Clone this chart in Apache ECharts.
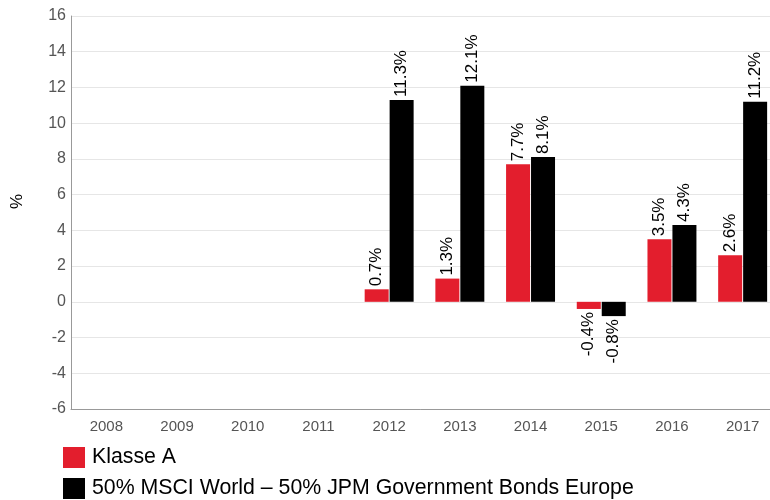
<!DOCTYPE html>
<html>
<head>
<meta charset="utf-8">
<script src="https://cdn.jsdelivr.net/npm/echarts@6/dist/echarts.min.js"></script>
<style>html,body{margin:0;padding:0;background:#fff;}#c{width:770px;height:500px;}</style>
</head>
<body>
<div id="c"></div>
<script>
const categories = ['2008','2009','2010','2011','2012','2013','2014','2015','2016','2017'];
const klasseA = [null,null,null,null,0.7,1.3,7.7,-0.4,3.5,2.6];
const benchmark = [null,null,null,null,11.3,12.1,8.1,-0.8,4.3,11.2];
const seriesNames = ['Klasse A','50% MSCI World \u2013 50% JPM Government Bonds Europe'];

function toData(arr){
  return arr.map(v => {
    if (v === null) return '-';
    return {
      value: v,
      label: v < 0 ? {position:'bottom', align:'right'} : {position:'top', align:'left'}
    };
  });
}
const labelCfg = {
  show: true, rotate: 90, distance: 3, verticalAlign: 'middle',
  fontFamily: 'Liberation Sans, Arial, sans-serif', fontSize: 17, color: '#000',
  formatter: p => p.value.toFixed(1) + '%'
};
const legendBase = {
  left: 63, padding: 0, itemWidth: 22, itemHeight: 21, icon: 'rect',
  textStyle: {fontSize: 21.3, color: '#000', padding: [3,0,0,2]}
};
const chart = echarts.init(document.getElementById('c'));
chart.setOption({
  animation: false,
  textStyle: {fontFamily: 'Liberation Sans, Arial, sans-serif'},
  grid: {left: 71, width: 707, top: 16, bottom: 91, containLabel: false, outerBoundsMode: 'none'},
  legend: [
    Object.assign({}, legendBase, {top: 447, data: [seriesNames[0]]}),
    Object.assign({}, legendBase, {top: 478, data: [seriesNames[1]]})
  ],
  xAxis: {
    type: 'category', data: categories,
    axisLine: {show: true, onZero: false, lineStyle: {color: '#999'}}, axisTick: {show: false},
    axisLabel: {color: '#555', fontSize: 15, margin: 10}
  },
  yAxis: {
    type: 'value', min: -6, max: 16, interval: 2,
    name: '%', nameLocation: 'middle', nameRotate: 90, nameGap: 45,
    nameTextStyle: {fontSize: 17, color: '#000', padding: [0,0,0,22]},
    axisLine: {show: true, lineStyle: {color: '#999'}}, axisTick: {show: false},
    axisLabel: {color: '#555', fontSize: 16, margin: 5},
    splitLine: {lineStyle: {color: '#e6e6e6'}}
  },
  series: [
    {name: seriesNames[0], type: 'bar', data: toData(klasseA), barWidth: 24, barGap: '4%',
     itemStyle: {color: '#e31e2d'}, label: labelCfg},
    {name: seriesNames[1], type: 'bar', data: toData(benchmark), barWidth: 24, barGap: '4%',
     itemStyle: {color: '#000'}, label: labelCfg}
  ]
});
</script>
</body>
</html>
